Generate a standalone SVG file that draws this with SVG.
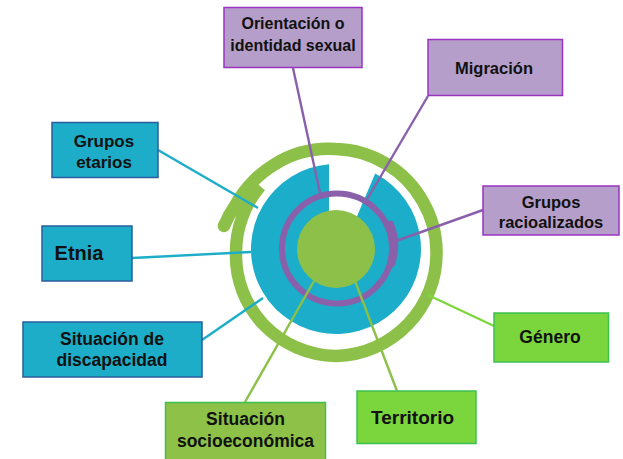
<svg xmlns="http://www.w3.org/2000/svg" width="623" height="459" viewBox="0 0 623 459">
<style>
.box text{font-family:"Liberation Sans",Arial,sans-serif;font-weight:bold;fill:#111;text-anchor:middle}
.bl rect{fill:#1dadc9;stroke:#2b5d9e;stroke-width:1.5}
.pu rect{fill:#b59ec9;stroke:#9b33c2;stroke-width:1.5}
.gr rect{fill:#7bd63e;stroke:#3cc050;stroke-width:1.5}
.go rect{fill:#8dc148;stroke:#3cc050;stroke-width:1.5}
#connectors line{stroke-width:2.4;fill:none}
.cb{stroke:#1dadc9}.cp{stroke:#8a60aa}.cg{stroke:#8cc048}.cl{stroke:#7ed63e}
</style>
<rect width="623" height="459" fill="#ffffff"/>
<g id="core">
<path d="M223.9,226.1 A115,115 0 0 1 235.4,205.1 A111,111 0 0 1 252.6,181.9 A108,108 0 0 1 274.6,164.3 A106,106 0 0 1 299.9,152.8 A104,104 0 0 1 336,149 A102,102 0 0 1 386.75,164.1 A101,101 0 0 1 423,201.75 A100.5,100.5 0 0 1 436.5,252 A102,102 0 0 1 408.1,324.1 A103,103 0 0 1 336,356 A103,103 0 0 1 263.5,324.5 A101,101 0 0 1 236,252 A100,100 0 0 1 242,217.8 A100,100 0 0 1 260.2,186.1" fill="none" stroke="#8cc048" stroke-width="12.5"/>
<circle cx="223.9" cy="226.1" r="6.25" fill="#8cc048"/>
<path d="M329,164.3 L329,228 L352,228 L375.2,173.6 A85,85 0 1 1 329,164.3 Z" fill="#1badc9"/>
<circle cx="337" cy="248.5" r="55" fill="none" stroke="#8a60aa" stroke-width="6"/>
<path d="M390.5,224 A57.5,57.5 0 0 1 391.5,264" fill="none" stroke="#8a60aa" stroke-width="7" stroke-linecap="round"/>
<circle cx="336" cy="249" r="39" fill="#8cc048"/>
</g>
<g id="connectors">
<line class="cp" x1="293" y1="68" x2="320" y2="193"/>
<line class="cp" x1="428" y1="96" x2="365" y2="203"/>
<line class="cp" x1="483" y1="210" x2="396" y2="241"/>
<line class="cb" x1="158" y1="150" x2="258" y2="208"/>
<line class="cb" x1="132" y1="258" x2="251" y2="252"/>
<line class="cb" x1="202" y1="340" x2="263" y2="298"/>
<line class="cg" x1="245" y1="402" x2="314" y2="281"/>
<line class="cg" x1="397" y1="391" x2="355" y2="281"/>
<line class="cl" x1="494" y1="326" x2="428" y2="295"/>
</g>
<g id="orientacion" class="box pu">
<rect x="224" y="7.5" width="138" height="60"/>
<text x="293" y="29" font-size="16">Orientación o</text>
<text x="293" y="50.7" font-size="16">identidad sexual</text>
</g>
<g id="migracion" class="box pu">
<rect x="428" y="39.5" width="134.5" height="56"/>
<text x="494" y="74" font-size="16.5">Migración</text>
</g>
<g id="racioalizados" class="box pu">
<rect x="483" y="186" width="136" height="49"/>
<text x="551" y="207.5" font-size="16.5">Grupos</text>
<text x="551" y="227.5" font-size="16.5">racioalizados</text>
</g>
<g id="etarios" class="box bl">
<rect x="52" y="122.5" width="106" height="55"/>
<text x="104" y="146.8" font-size="17">Grupos</text>
<text x="104" y="167.8" font-size="17">etarios</text>
</g>
<g id="etnia" class="box bl">
<rect x="42" y="226" width="90" height="55"/>
<text x="79" y="260.3" font-size="20">Etnia</text>
</g>
<g id="discapacidad" class="box bl">
<rect x="23" y="322" width="179" height="55"/>
<text x="112" y="344.5" font-size="17.5">Situación de</text>
<text x="112" y="365.5" font-size="17.5">discapacidad</text>
</g>
<g id="socioeconomica" class="box go">
<rect x="165.5" y="402.5" width="160" height="70"/>
<text x="245.5" y="424.5" font-size="17.5">Situación</text>
<text x="245.5" y="447" font-size="17.5">socioeconómica</text>
</g>
<g id="territorio" class="box gr">
<rect x="357" y="391" width="119" height="52.5"/>
<text x="412.5" y="423.5" font-size="19">Territorio</text>
</g>
<g id="genero" class="box gr">
<rect x="494" y="313" width="114.5" height="49"/>
<text x="550" y="342.8" font-size="17.5">Género</text>
</g>
</svg>
